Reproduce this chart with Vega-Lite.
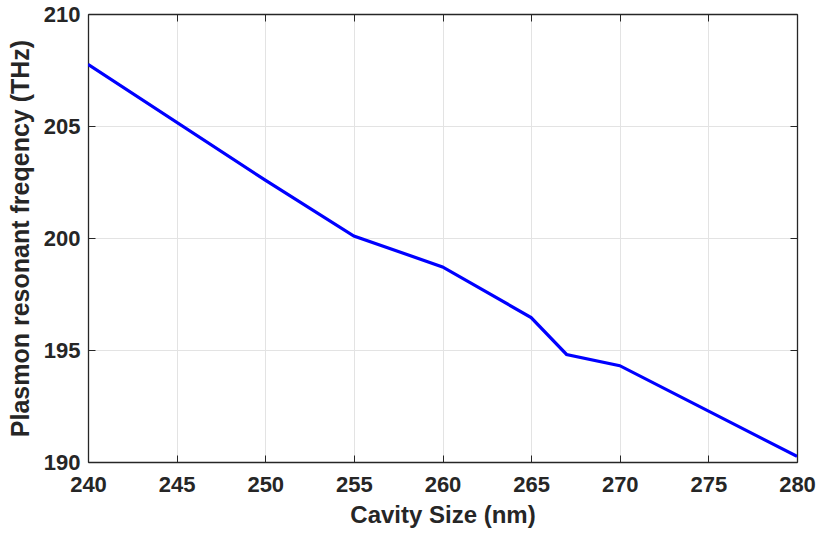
{
  "$schema": "https://vega.github.io/schema/vega-lite/v6.json",
  "autosize": "none",
  "width": 709,
  "height": 448,
  "padding": {"left": 88, "top": 14, "right": 19, "bottom": 71},
  "background": "white",
  "config": {
    "view": {"stroke": null},
    "axis": {
      "labelFont": "Liberation Sans",
      "titleFont": "Liberation Sans",
      "labelFontWeight": "bold",
      "titleFontWeight": "bold",
      "labelFontSize": 22,
      "titleFontSize": 24,
      "labelColor": "#262626",
      "titleColor": "#262626",
      "domainColor": "#262626",
      "tickColor": "#262626",
      "domainWidth": 1.3,
      "tickWidth": 1,
      "gridColor": "#e3e3e3",
      "gridWidth": 1
    }
  },
  "data": {
    "values": [
      {"size": 240, "freq": 207.75},
      {"size": 250, "freq": 202.58},
      {"size": 255, "freq": 200.09},
      {"size": 260, "freq": 198.71},
      {"size": 265, "freq": 196.45},
      {"size": 267, "freq": 194.8},
      {"size": 270, "freq": 194.3},
      {"size": 280, "freq": 190.25}
    ]
  },
  "layer": [
    {
      "mark": {"type": "line", "color": "#0000ff", "strokeWidth": 3.2, "clip": true},
      "encoding": {
        "x": {
          "field": "size", "type": "quantitative",
          "scale": {"domain": [240, 280], "nice": false, "zero": false},
          "axis": {
            "orient": "bottom", "title": "Cavity Size (nm)",
            "values": [240, 245, 250, 255, 260, 265, 270, 275, 280],
            "tickSize": -7, "labelPadding": 19, "titlePadding": 8,
            "grid": true, "labelFlush": false
          }
        },
        "y": {
          "field": "freq", "type": "quantitative",
          "scale": {"domain": [190, 210], "nice": false, "zero": false},
          "axis": {
            "orient": "left", "title": "Plasmon resonant freqency (THz)",
            "titleFontSize": 25,
            "values": [190, 195, 200, 205, 210],
            "tickSize": -7, "labelPadding": 15, "titlePadding": 10,
            "grid": true, "labelFlush": false
          }
        }
      }
    },
    {
      "mark": {"type": "line", "opacity": 0},
      "encoding": {
        "x": {
          "field": "size", "type": "quantitative",
          "axis": {
            "orient": "top", "title": null, "labels": false, "grid": false,
            "values": [240, 245, 250, 255, 260, 265, 270, 275, 280],
            "tickSize": -7
          }
        },
        "y": {
          "field": "freq", "type": "quantitative",
          "axis": {
            "orient": "right", "title": null, "labels": false, "grid": false,
            "values": [190, 195, 200, 205, 210],
            "tickSize": -7
          }
        }
      }
    }
  ],
  "resolve": {"axis": {"x": "independent", "y": "independent"}}
}
